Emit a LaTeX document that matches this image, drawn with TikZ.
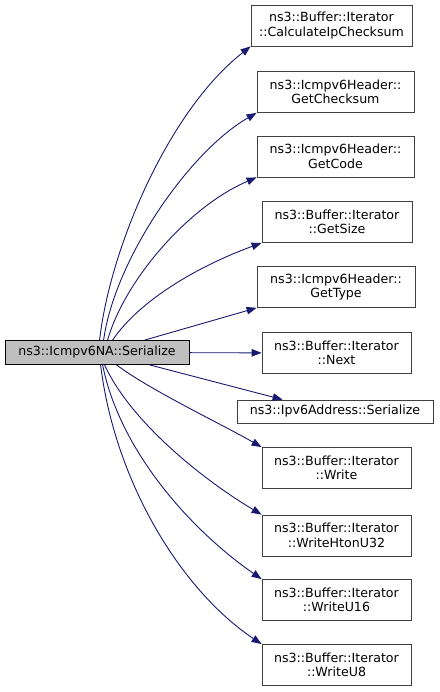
\documentclass[tikz,border=0pt]{standalone}
\usepackage{fontspec}
\setmainfont{DejaVu Sans}
\usetikzlibrary{arrows.meta}
\definecolor{midnight}{HTML}{191970}
\definecolor{grey25}{HTML}{404040}
\definecolor{grey75}{HTML}{BFBFBF}
\begin{document}
\begin{tikzpicture}[x=1bp,y=-1bp,
    fn/.style={draw=grey25,line width=0.8bp,align=center,inner sep=0pt,
        font=\fontsize{12.6bp}{14.5bp}\selectfont,minimum height=41bp},
    root/.style={fn,draw=black,fill=grey75,minimum height=24bp},
    call/.style={midnight,line width=0.9bp,-{Triangle[length=10bp,width=7.5bp]}}]
            \useasboundingbox (0,0) rectangle (440,692);
            \draw (97,352.5) node[root,minimum width=184bp] (main) {ns3::Icmpv6NA::Serialize};
            \draw (331.5,25.5) node[fn,minimum width=161bp] (csum) {ns3::Buffer::Iterator\\::CalculateIpChecksum};
            \draw (335.5,92) node[fn,minimum width=157bp] (getcsum) {ns3::Icmpv6Header::\\GetChecksum};
            \draw (335.5,156.5) node[fn,minimum width=157bp] (getcode) {ns3::Icmpv6Header::\\GetCode};
            \draw (337,222) node[fn,minimum width=150bp] (getsize) {ns3::Buffer::Iterator\\::GetSize};
            \draw (336,287) node[fn,minimum width=158bp] (gettype) {ns3::Icmpv6Header::\\GetType};
            \draw (336.5,353) node[fn,minimum width=149bp] (next) {ns3::Buffer::Iterator\\::Next};
            \draw (335,411.5) node[fn,minimum width=196bp,minimum height=23bp] (addr) {ns3::Ipv6Address::Serialize};
            \draw (336.5,468) node[fn,minimum width=149bp] (write) {ns3::Buffer::Iterator\\::Write};
            \draw (336.5,535.5) node[fn,minimum width=149bp] (hton) {ns3::Buffer::Iterator\\::WriteHtonU32};
            \draw (336.5,600) node[fn,minimum width=149bp] (wu16) {ns3::Buffer::Iterator\\::WriteU16};
            \draw (336.5,665) node[fn,minimum width=149bp] (wu8) {ns3::Buffer::Iterator\\::WriteU8};

            \draw[call] ([xshift=95bp]main.north west) .. controls +(10,-90) and +(-83,65) .. (csum.south west);
            \draw[call] ([xshift=99bp]main.north west) .. controls +(11,-80) and +(-68,39) .. (getcsum.south west);
            \draw[call] ([xshift=103bp]main.north west) .. controls +(17,-60) and +(-68,29) .. (getcode.south west);
            \draw[call] ([xshift=108bp]main.north west) .. controls +(27,-40) and +(-63,23) .. (getsize.south west);
            \draw[call] ([xshift=140bp]main.north west) -- (gettype.south west);
            \draw[call] (main) -- (next);
            \draw[call] ([xshift=145bp]main.south west) -- ([xshift=46bp]addr.north west);
            \draw[call] ([xshift=112bp]main.south west) .. controls +(33,25) and +(-40,-23) .. (write.north west);
            \draw[call] ([xshift=100bp]main.south west) .. controls +(25,55) and +(-62,-37) .. (hton.north west);
            \draw[call] ([xshift=98bp]main.south west) .. controls +(17,85) and +(-72,-50) .. (wu16.north west);
            \draw[call] ([xshift=96bp]main.south west) .. controls +(14,115) and +(-82,-55) .. (wu8.north west);
        \end{tikzpicture}
\end{document}
